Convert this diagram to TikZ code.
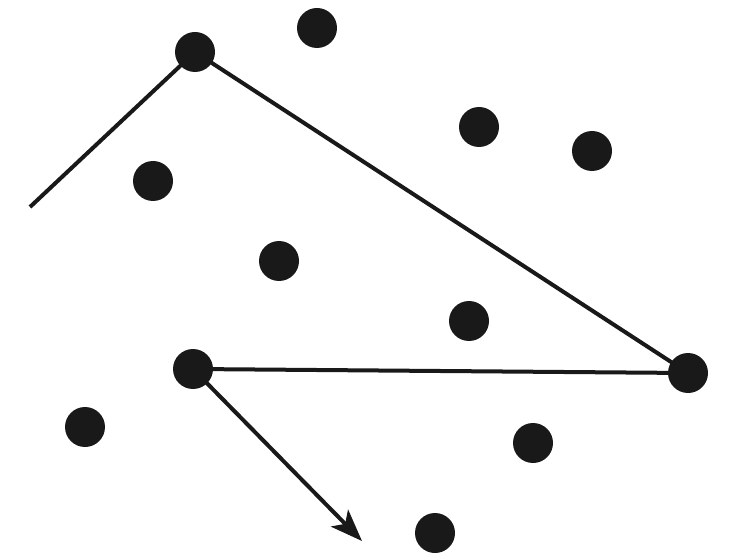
\documentclass[tikz,border=0pt]{standalone}
\usetikzlibrary{arrows.meta}
\begin{document}
\begin{tikzpicture}[x=1pt,y=-1pt,
  dot/.style={circle,fill=black!90,inner sep=0pt,minimum size=40pt},
  path/.style={line width=4pt,black!90,line join=round}]
\useasboundingbox (0,0) rectangle (744,553);
\fill[white] (0,0) rectangle (744,553);
\node[dot] (d1) at (195,52) {};
\node[dot] (d2) at (317,28) {};
\node[dot] (d3) at (479,127) {};
\node[dot] (d4) at (592,151) {};
\node[dot] (d5) at (153,181) {};
\node[dot] (d6) at (279,261) {};
\node[dot] (d7) at (469,321) {};
\node[dot] (d8) at (193,369) {};
\node[dot] (d9) at (688,373) {};
\node[dot] (d10) at (85,427) {};
\node[dot] (d11) at (533,443) {};
\node[dot] (d12) at (435,533) {};
\coordinate (s) at (30,207);
\coordinate (e) at (362,541);
\draw[path] (s) -- (d1.center) -- (d9.center) -- (d8.center);
\draw[path,-{Stealth[length=32pt,width=24pt,inset=8pt]}] (d8.center) -- (e);
\end{tikzpicture}
\end{document}
